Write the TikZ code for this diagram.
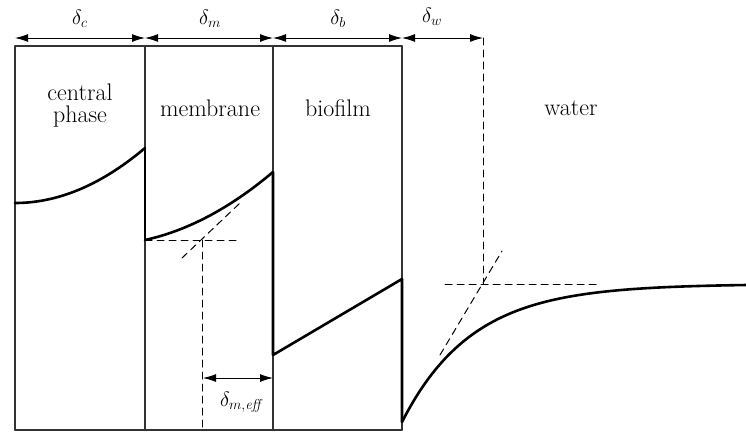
\documentclass[tikz,border=0pt]{standalone}
\usetikzlibrary{arrows.meta}
\begin{document}
\begin{tikzpicture}[x=1pt,y=-1pt,line cap=round,line join=round,
 font=\fontsize{24}{22}\selectfont,
 wall/.style={line width=1.4pt,black!80},
 prof/.style={line width=2.6pt},
 guide/.style={line width=1pt,dash pattern=on 7pt off 5pt},
 span/.style={{Latex[length=13pt,width=8pt]}-{Latex[length=13pt,width=8pt]},line width=1pt},
 sym/.style={font=\fontsize{22}{24}\selectfont}]
 \useasboundingbox (0,0) rectangle (746,431);
 % layer walls
 \foreach \wx in {15,145,273,402}
  \draw[wall] (\wx,46)--(\wx,430);
 \draw[wall] (15,46)--(402,46);
 \draw[wall] (15,430)--(402,430);
 % thickness arrows
 \coordinate (w0) at (15,38);
 \coordinate (w1) at (145,38);
 \coordinate (w2) at (273,38);
 \coordinate (w3) at (402,38);
 \coordinate (w4) at (483,38);
 \draw[span] (w0)--(w1);
 \draw[span] (w1)--(w2);
 \draw[span] (w2)--(w3);
 \draw[span] (w3)--(w4);
 \node[sym] (dc) at (80,19) {$\delta_c$};
 \node[sym] (dm) at (210,19) {$\delta_m$};
 \node[sym] (db) at (338,19) {$\delta_b$};
 \node[sym] (dw) at (432,17) {$\delta_w$};
 % layer names
 \node[align=center] (central) at (80,106) {central\\phase};
 \node (membrane) at (210,108) {membrane};
 \node (biofilm) at (338,108) {biofilm};
 \node (water) at (571,108) {water};
 % concentration profile
 \draw[prof,domain=0:1,samples=40,variable=\t]
  plot ({15+130*\t},{203-55*\t*\t});
 \draw[prof] (145,148)--(145,240);
 \draw[prof,domain=0:1,samples=40,variable=\t]
  plot ({145+128*\t},{240-28*\t-40*\t*\t});
 \draw[prof] (273,172)--(273,355)--(402,279)--(402,422);
 \draw[prof,domain=402:746,samples=80,variable=\u]
  plot ({\u},{284+138*exp(-(\u-402)/70)});
 % effective membrane thickness
 \coordinate (mh) at (145,240);
 \coordinate (mx) at (202,240);
 \draw[guide] (mh)--(237,240);
 \draw[guide] (182,258)--(240,203);
 \draw[guide] (mx)--(202,430);
 \draw[span] (203,378)--(273,378);
 \node[sym] (dmeff) at (242,402) {$\delta_{m,\mathit{eff}}$};
 % water boundary layer
 \draw[guide] (w4)--(483,284);
 \draw[guide] (445,284)--(600,284);
 \draw[guide] (440,355)--(502,251);
\end{tikzpicture}
\end{document}
